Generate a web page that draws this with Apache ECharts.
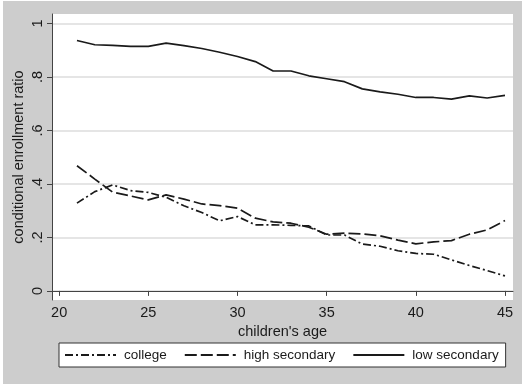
<!DOCTYPE html>
<html>
<head>
<meta charset="utf-8">
<script src="https://cdn.jsdelivr.net/npm/echarts@6/dist/echarts.min.js"></script>
<style>
  html, body { margin: 0; padding: 0; background: #fff; }
  #chart { width: 522px; height: 389px; }
</style>
</head>
<body>
<div id="chart"></div>
<script>
// children's age 21..45
const ages = [21, 22, 23, 24, 25, 26, 27, 28, 29, 30, 31, 32, 33, 34, 35, 36, 37, 38, 39, 40, 41, 42, 43, 44, 45];
const college = [0.328, 0.371, 0.396, 0.375, 0.368, 0.350, 0.318, 0.293, 0.262, 0.278, 0.247, 0.247, 0.245, 0.243, 0.209, 0.209, 0.175, 0.167, 0.150, 0.140, 0.137, 0.116, 0.095, 0.076, 0.056];
const highSecondary = [0.468, 0.418, 0.369, 0.355, 0.340, 0.359, 0.343, 0.325, 0.319, 0.309, 0.272, 0.258, 0.253, 0.238, 0.212, 0.216, 0.213, 0.206, 0.190, 0.176, 0.183, 0.188, 0.212, 0.228, 0.263];
const lowSecondary = [0.936, 0.920, 0.918, 0.914, 0.914, 0.926, 0.917, 0.906, 0.892, 0.876, 0.857, 0.822, 0.822, 0.804, 0.793, 0.782, 0.755, 0.744, 0.735, 0.723, 0.723, 0.717, 0.729, 0.721, 0.731];

const xTicks = [20, 25, 30, 35, 40, 45];
const yTicks = [0, 0.2, 0.4, 0.6, 0.8, 1];
const yTickLabels = ['0', '.2', '.4', '.6', '.8', '1'];

const chart = echarts.init(document.getElementById('chart'));
const font = 'Liberation Sans, Arial, sans-serif';
const ink = '#1a1a1a';

const pairs = vals => ages.map((a, i) => [a, vals[i]]);

const option = {
  animation: false,
  backgroundColor: '#fff',
  textStyle: { fontFamily: font },
  graphic: [
    { type: 'rect', z: -10, shape: { x: 3, y: 1, width: 519, height: 383 }, style: { fill: '#cdcdcd' } },
    { type: 'rect', z: -9, shape: { x: 52, y: 14, width: 461, height: 286 }, style: { fill: '#fff' } }
  ],
  grid: { left: 52, top: 14, width: 461, height: 286, containLabel: false },
  legend: {
    left: 59, top: 343,
    width: 447,
    backgroundColor: '#fff',
    borderColor: '#333',
    borderWidth: 1,
    padding: [5, 7, 5, 5],
    itemGap: 17,
    itemWidth: 51,
    itemHeight: 12,
    itemStyle: { opacity: 0 },
    textStyle: { fontSize: 13.5, color: ink, fontFamily: font, padding: [0, 0, 0, 3] },
    data: ['college', 'high secondary', 'low secondary']
  },
  xAxis: {
    type: 'value',
    min: 19.6, max: 45.45,
    name: "children's age",
    nameLocation: 'middle',
    nameGap: 23,
    nameTextStyle: { fontSize: 14.5, color: ink },
    axisLine: { lineStyle: { color: '#444', width: 1 } },
    axisTick: { customValues: xTicks, length: 5, lineStyle: { color: '#444' } },
    axisLabel: { customValues: xTicks, fontSize: 14.5, color: ink, margin: 5 },
    splitLine: { show: false }
  },
  yAxis: {
    type: 'value',
    min: -0.034, max: 1.035,
    name: 'conditional enrollment ratio',
    nameLocation: 'middle',
    nameGap: 26,
    nameRotate: 90,
    nameMoveOverlap: false,
    nameTextStyle: { fontSize: 14.5, color: ink },
    axisLine: { show: true, lineStyle: { color: '#444', width: 1 } },
    axisTick: { show: true, customValues: yTicks, length: 5, lineStyle: { color: '#444' } },
    axisLabel: {
      customValues: yTicks,
      rotate: 90,
      fontSize: 14.5,
      color: ink,
      margin: 7,
      formatter: v => yTickLabels[yTicks.findIndex(t => Math.abs(t - v) < 1e-6)]
    },
    splitLine: { show: true, lineStyle: { color: '#dcdcdc', width: 1.5 } }
  },
  series: [
    {
      name: 'college', type: 'line', data: pairs(college), showSymbol: false, symbol: 'none',
      lineStyle: { color: ink, width: 1.7, type: [8, 3, 2, 3] }, itemStyle: { color: ink }
    },
    {
      name: 'high secondary', type: 'line', data: pairs(highSecondary), showSymbol: false, symbol: 'none',
      lineStyle: { color: ink, width: 1.7, type: [12, 4] }, itemStyle: { color: ink }
    },
    {
      name: 'low secondary', type: 'line', data: pairs(lowSecondary), showSymbol: false, symbol: 'none',
      lineStyle: { color: ink, width: 1.7, type: 'solid' }, itemStyle: { color: ink }
    }
  ]
};

chart.setOption(option);
</script>
</body>
</html>
